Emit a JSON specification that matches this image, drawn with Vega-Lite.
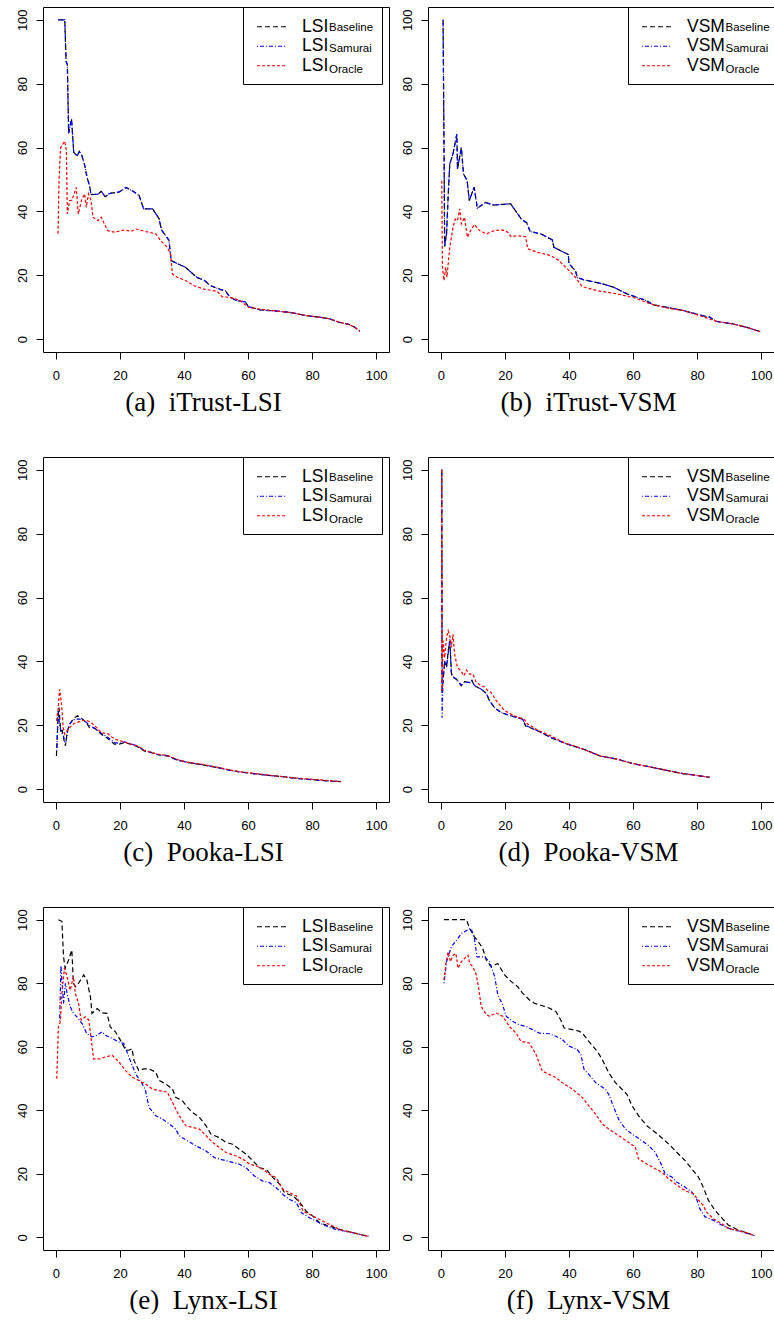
{
"$schema": "https://vega.github.io/schema/vega-lite/v6.json",
"background": "white",
"padding": {"left": 15, "top": 6, "right": 0, "bottom": 0},
"config": {
  "view": {"stroke": "black", "strokeWidth": 1},
  "axis": {"grid": false, "domain": false, "ticks": true, "tickColor": "black", "tickSize": 7, "tickWidth": 1, "labelFont": "Liberation Sans", "labelFontSize": 13, "labelColor": "black", "labelFlush": false, "labelOverlap": false, "titleFont": "Liberation Serif", "titleFontSize": 27, "titleFontWeight": "normal", "titleColor": "black"},
  "line": {"strokeWidth": 1.2}
},
"datasets": {
"a": [
{"x":0.7,"y":100,"s":"Baseline"},{"x":2.8,"y":100,"s":"Baseline"},{"x":3.2,"y":87,"s":"Baseline"},{"x":3.6,"y":86,"s":"Baseline"},{"x":4.0,"y":64.5,"s":"Baseline"},{"x":4.9,"y":69,"s":"Baseline"},{"x":5.6,"y":58.5,"s":"Baseline"},{"x":6.7,"y":57.3,"s":"Baseline"},{"x":7.3,"y":58.8,"s":"Baseline"},{"x":8.1,"y":57.6,"s":"Baseline"},{"x":9.0,"y":54.5,"s":"Baseline"},{"x":9.8,"y":50.5,"s":"Baseline"},{"x":10.5,"y":48.2,"s":"Baseline"},{"x":11.0,"y":45.3,"s":"Baseline"},{"x":13.1,"y":45.4,"s":"Baseline"},{"x":14.2,"y":46.3,"s":"Baseline"},{"x":15.4,"y":44.6,"s":"Baseline"},{"x":16.7,"y":45.6,"s":"Baseline"},{"x":19.8,"y":46.1,"s":"Baseline"},{"x":21.9,"y":47.5,"s":"Baseline"},{"x":24.0,"y":46.4,"s":"Baseline"},{"x":26.0,"y":45.0,"s":"Baseline"},{"x":27.4,"y":40.8,"s":"Baseline"},{"x":30.2,"y":40.8,"s":"Baseline"},{"x":32.2,"y":37.8,"s":"Baseline"},{"x":33.0,"y":34.2,"s":"Baseline"},{"x":35.3,"y":31.0,"s":"Baseline"},{"x":36.0,"y":24.6,"s":"Baseline"},{"x":37.9,"y":23.7,"s":"Baseline"},{"x":40.5,"y":22.5,"s":"Baseline"},{"x":44.1,"y":19.3,"s":"Baseline"},{"x":46.4,"y":18.4,"s":"Baseline"},{"x":48.2,"y":16.8,"s":"Baseline"},{"x":51.3,"y":15.6,"s":"Baseline"},{"x":52.9,"y":15.2,"s":"Baseline"},{"x":54.4,"y":13.1,"s":"Baseline"},{"x":56.5,"y":12.1,"s":"Baseline"},{"x":59.1,"y":11.7,"s":"Baseline"},{"x":60.1,"y":10.2,"s":"Baseline"},{"x":63.7,"y":9.2,"s":"Baseline"},{"x":68.9,"y":8.8,"s":"Baseline"},{"x":73.0,"y":8.4,"s":"Baseline"},{"x":78.2,"y":7.4,"s":"Baseline"},{"x":82.3,"y":6.9,"s":"Baseline"},{"x":85.4,"y":6.4,"s":"Baseline"},{"x":88.5,"y":5.3,"s":"Baseline"},{"x":91.6,"y":4.6,"s":"Baseline"},{"x":93.2,"y":3.8,"s":"Baseline"},{"x":94.9,"y":2.5,"s":"Baseline"},
{"x":0.7,"y":100,"s":"Samurai"},{"x":2.8,"y":100,"s":"Samurai"},{"x":3.2,"y":87,"s":"Samurai"},{"x":3.6,"y":86,"s":"Samurai"},{"x":4.0,"y":64.5,"s":"Samurai"},{"x":4.9,"y":69,"s":"Samurai"},{"x":5.6,"y":58.5,"s":"Samurai"},{"x":6.7,"y":57.3,"s":"Samurai"},{"x":7.3,"y":58.8,"s":"Samurai"},{"x":8.1,"y":57.6,"s":"Samurai"},{"x":9.0,"y":54.5,"s":"Samurai"},{"x":9.8,"y":50.5,"s":"Samurai"},{"x":10.5,"y":48.2,"s":"Samurai"},{"x":11.0,"y":45.3,"s":"Samurai"},{"x":13.1,"y":45.4,"s":"Samurai"},{"x":14.2,"y":46.3,"s":"Samurai"},{"x":15.4,"y":44.6,"s":"Samurai"},{"x":16.7,"y":45.6,"s":"Samurai"},{"x":19.8,"y":46.1,"s":"Samurai"},{"x":21.9,"y":47.5,"s":"Samurai"},{"x":24.0,"y":46.4,"s":"Samurai"},{"x":26.0,"y":45.0,"s":"Samurai"},{"x":27.4,"y":40.8,"s":"Samurai"},{"x":30.2,"y":40.8,"s":"Samurai"},{"x":32.2,"y":37.8,"s":"Samurai"},{"x":33.0,"y":34.2,"s":"Samurai"},{"x":35.3,"y":31.0,"s":"Samurai"},{"x":36.0,"y":24.6,"s":"Samurai"},{"x":37.9,"y":23.7,"s":"Samurai"},{"x":40.5,"y":22.5,"s":"Samurai"},{"x":44.1,"y":19.3,"s":"Samurai"},{"x":46.4,"y":18.4,"s":"Samurai"},{"x":48.2,"y":16.8,"s":"Samurai"},{"x":51.3,"y":15.6,"s":"Samurai"},{"x":52.9,"y":15.2,"s":"Samurai"},{"x":54.4,"y":13.1,"s":"Samurai"},{"x":56.5,"y":12.1,"s":"Samurai"},{"x":59.1,"y":11.7,"s":"Samurai"},{"x":60.1,"y":10.2,"s":"Samurai"},{"x":63.7,"y":9.2,"s":"Samurai"},{"x":68.9,"y":8.8,"s":"Samurai"},{"x":73.0,"y":8.4,"s":"Samurai"},{"x":78.2,"y":7.4,"s":"Samurai"},{"x":82.3,"y":6.9,"s":"Samurai"},{"x":85.4,"y":6.4,"s":"Samurai"},{"x":88.5,"y":5.3,"s":"Samurai"},{"x":91.6,"y":4.6,"s":"Samurai"},{"x":93.2,"y":3.8,"s":"Samurai"},{"x":94.9,"y":2.5,"s":"Samurai"},
{"x":0.7,"y":33,"s":"Oracle"},{"x":1.0,"y":49.6,"s":"Oracle"},{"x":1.5,"y":60,"s":"Oracle"},{"x":2.8,"y":62,"s":"Oracle"},{"x":3.3,"y":59,"s":"Oracle"},{"x":3.6,"y":39.2,"s":"Oracle"},{"x":4.3,"y":43.4,"s":"Oracle"},{"x":5.0,"y":43.5,"s":"Oracle"},{"x":6.4,"y":47.5,"s":"Oracle"},{"x":7.0,"y":39.2,"s":"Oracle"},{"x":8.0,"y":43.4,"s":"Oracle"},{"x":9.0,"y":45.5,"s":"Oracle"},{"x":9.5,"y":41.3,"s":"Oracle"},{"x":10.2,"y":45.5,"s":"Oracle"},{"x":11.0,"y":43.4,"s":"Oracle"},{"x":11.6,"y":38.2,"s":"Oracle"},{"x":13.1,"y":37.1,"s":"Oracle"},{"x":14.2,"y":38.2,"s":"Oracle"},{"x":15.2,"y":36.0,"s":"Oracle"},{"x":16.2,"y":34.0,"s":"Oracle"},{"x":18.3,"y":33.5,"s":"Oracle"},{"x":21.4,"y":34.2,"s":"Oracle"},{"x":23.5,"y":33.8,"s":"Oracle"},{"x":25.0,"y":34.5,"s":"Oracle"},{"x":27.6,"y":33.8,"s":"Oracle"},{"x":31.2,"y":33.0,"s":"Oracle"},{"x":32.7,"y":30.9,"s":"Oracle"},{"x":34.8,"y":28.8,"s":"Oracle"},{"x":35.8,"y":26.7,"s":"Oracle"},{"x":36.4,"y":20.4,"s":"Oracle"},{"x":37.9,"y":19.4,"s":"Oracle"},{"x":40.5,"y":18.4,"s":"Oracle"},{"x":43.0,"y":16.8,"s":"Oracle"},{"x":46.2,"y":15.7,"s":"Oracle"},{"x":50.3,"y":15.0,"s":"Oracle"},{"x":51.9,"y":13.3,"s":"Oracle"},{"x":54.4,"y":13.1,"s":"Oracle"},{"x":57.5,"y":12.1,"s":"Oracle"},{"x":60.1,"y":10.0,"s":"Oracle"},{"x":63.7,"y":9.4,"s":"Oracle"},{"x":68.9,"y":8.8,"s":"Oracle"},{"x":73.0,"y":8.4,"s":"Oracle"},{"x":78.2,"y":7.4,"s":"Oracle"},{"x":82.3,"y":6.9,"s":"Oracle"},{"x":85.4,"y":6.4,"s":"Oracle"},{"x":88.5,"y":5.3,"s":"Oracle"},{"x":91.6,"y":4.6,"s":"Oracle"},{"x":93.2,"y":3.8,"s":"Oracle"},{"x":94.9,"y":2.5,"s":"Oracle"}
],
"b": [
{"x":0.7,"y":100,"s":"Baseline"},{"x":1.0,"y":60,"s":"Baseline"},{"x":1.2,"y":29,"s":"Baseline"},{"x":1.8,"y":33,"s":"Baseline"},{"x":2.3,"y":45,"s":"Baseline"},{"x":2.8,"y":54.9,"s":"Baseline"},{"x":3.8,"y":58,"s":"Baseline"},{"x":5.0,"y":64.2,"s":"Baseline"},{"x":5.2,"y":53.3,"s":"Baseline"},{"x":6.4,"y":60,"s":"Baseline"},{"x":7.1,"y":51.7,"s":"Baseline"},{"x":8.2,"y":49.7,"s":"Baseline"},{"x":8.9,"y":43.4,"s":"Baseline"},{"x":10.4,"y":47.6,"s":"Baseline"},{"x":11.4,"y":41,"s":"Baseline"},{"x":13.9,"y":42.8,"s":"Baseline"},{"x":16.5,"y":42,"s":"Baseline"},{"x":21.8,"y":42.4,"s":"Baseline"},{"x":23.8,"y":39.5,"s":"Baseline"},{"x":25.3,"y":37.4,"s":"Baseline"},{"x":26.8,"y":36.5,"s":"Baseline"},{"x":27.9,"y":33.7,"s":"Baseline"},{"x":31.2,"y":33,"s":"Baseline"},{"x":34.8,"y":31.1,"s":"Baseline"},{"x":35.3,"y":28.8,"s":"Baseline"},{"x":38.4,"y":27.2,"s":"Baseline"},{"x":39.8,"y":26.5,"s":"Baseline"},{"x":40.0,"y":23.6,"s":"Baseline"},{"x":42.0,"y":21.5,"s":"Baseline"},{"x":42.6,"y":19.4,"s":"Baseline"},{"x":44.6,"y":18.6,"s":"Baseline"},{"x":49.8,"y":17.5,"s":"Baseline"},{"x":53.9,"y":16.3,"s":"Baseline"},{"x":58.1,"y":14.2,"s":"Baseline"},{"x":61.2,"y":13.1,"s":"Baseline"},{"x":63.7,"y":12.3,"s":"Baseline"},{"x":66.3,"y":10.8,"s":"Baseline"},{"x":70.5,"y":10,"s":"Baseline"},{"x":75.6,"y":9,"s":"Baseline"},{"x":80.8,"y":7.6,"s":"Baseline"},{"x":83.9,"y":6.9,"s":"Baseline"},{"x":86.0,"y":5.6,"s":"Baseline"},{"x":91.1,"y":4.8,"s":"Baseline"},{"x":95.2,"y":3.8,"s":"Baseline"},{"x":99.7,"y":2.4,"s":"Baseline"},
{"x":0.7,"y":100,"s":"Samurai"},{"x":1.0,"y":60,"s":"Samurai"},{"x":1.2,"y":29,"s":"Samurai"},{"x":1.8,"y":33,"s":"Samurai"},{"x":2.3,"y":45,"s":"Samurai"},{"x":2.8,"y":54.9,"s":"Samurai"},{"x":3.8,"y":58,"s":"Samurai"},{"x":5.0,"y":64.2,"s":"Samurai"},{"x":5.2,"y":53.3,"s":"Samurai"},{"x":6.4,"y":60,"s":"Samurai"},{"x":7.1,"y":51.7,"s":"Samurai"},{"x":8.2,"y":49.7,"s":"Samurai"},{"x":8.9,"y":43.4,"s":"Samurai"},{"x":10.4,"y":47.6,"s":"Samurai"},{"x":11.4,"y":41,"s":"Samurai"},{"x":13.9,"y":42.8,"s":"Samurai"},{"x":16.5,"y":42,"s":"Samurai"},{"x":21.8,"y":42.4,"s":"Samurai"},{"x":23.8,"y":39.5,"s":"Samurai"},{"x":25.3,"y":37.4,"s":"Samurai"},{"x":26.8,"y":36.5,"s":"Samurai"},{"x":27.9,"y":33.7,"s":"Samurai"},{"x":31.2,"y":33,"s":"Samurai"},{"x":34.8,"y":31.1,"s":"Samurai"},{"x":35.3,"y":28.8,"s":"Samurai"},{"x":38.4,"y":27.2,"s":"Samurai"},{"x":39.8,"y":26.5,"s":"Samurai"},{"x":40.0,"y":23.6,"s":"Samurai"},{"x":42.0,"y":21.5,"s":"Samurai"},{"x":42.6,"y":19.4,"s":"Samurai"},{"x":44.6,"y":18.6,"s":"Samurai"},{"x":49.8,"y":17.5,"s":"Samurai"},{"x":53.9,"y":16.3,"s":"Samurai"},{"x":58.1,"y":14.2,"s":"Samurai"},{"x":61.2,"y":13.1,"s":"Samurai"},{"x":63.7,"y":12.3,"s":"Samurai"},{"x":66.3,"y":10.8,"s":"Samurai"},{"x":70.5,"y":10,"s":"Samurai"},{"x":75.6,"y":9,"s":"Samurai"},{"x":80.8,"y":7.6,"s":"Samurai"},{"x":83.9,"y":6.9,"s":"Samurai"},{"x":86.0,"y":5.6,"s":"Samurai"},{"x":91.1,"y":4.8,"s":"Samurai"},{"x":95.2,"y":3.8,"s":"Samurai"},{"x":99.7,"y":2.4,"s":"Samurai"},
{"x":0.3,"y":49.6,"s":"Oracle"},{"x":0.5,"y":22.5,"s":"Oracle"},{"x":1.0,"y":18.4,"s":"Oracle"},{"x":1.5,"y":22.5,"s":"Oracle"},{"x":1.9,"y":19.4,"s":"Oracle"},{"x":2.8,"y":28.8,"s":"Oracle"},{"x":3.8,"y":35,"s":"Oracle"},{"x":4.5,"y":37.6,"s":"Oracle"},{"x":5.2,"y":37.1,"s":"Oracle"},{"x":5.9,"y":40.8,"s":"Oracle"},{"x":6.4,"y":36.1,"s":"Oracle"},{"x":7.4,"y":38.2,"s":"Oracle"},{"x":8.3,"y":31.9,"s":"Oracle"},{"x":9.3,"y":34,"s":"Oracle"},{"x":10.5,"y":35.9,"s":"Oracle"},{"x":12.1,"y":34,"s":"Oracle"},{"x":14.2,"y":33,"s":"Oracle"},{"x":16.7,"y":34,"s":"Oracle"},{"x":19.3,"y":34.2,"s":"Oracle"},{"x":20.9,"y":33.5,"s":"Oracle"},{"x":21.9,"y":32.1,"s":"Oracle"},{"x":24.0,"y":32.4,"s":"Oracle"},{"x":26.5,"y":32.1,"s":"Oracle"},{"x":27.1,"y":28.3,"s":"Oracle"},{"x":30.2,"y":27.2,"s":"Oracle"},{"x":34.3,"y":26.2,"s":"Oracle"},{"x":36.9,"y":24.6,"s":"Oracle"},{"x":39.5,"y":22,"s":"Oracle"},{"x":42.0,"y":19.4,"s":"Oracle"},{"x":44.1,"y":16.5,"s":"Oracle"},{"x":48.8,"y":15.2,"s":"Oracle"},{"x":55.0,"y":14.2,"s":"Oracle"},{"x":60.6,"y":12.9,"s":"Oracle"},{"x":65.3,"y":11.1,"s":"Oracle"},{"x":70.5,"y":9.8,"s":"Oracle"},{"x":75.6,"y":9,"s":"Oracle"},{"x":80.8,"y":7.4,"s":"Oracle"},{"x":86.0,"y":5.6,"s":"Oracle"},{"x":91.1,"y":4.8,"s":"Oracle"},{"x":95.2,"y":3.8,"s":"Oracle"},{"x":99.7,"y":2.4,"s":"Oracle"}
],
"c": [
{"x":0.2,"y":10.4,"s":"Baseline"},{"x":0.7,"y":22.4,"s":"Baseline"},{"x":1.0,"y":25.6,"s":"Baseline"},{"x":1.5,"y":18.3,"s":"Baseline"},{"x":2.0,"y":18.5,"s":"Baseline"},{"x":2.6,"y":15.1,"s":"Baseline"},{"x":3.0,"y":13.6,"s":"Baseline"},{"x":3.6,"y":18.3,"s":"Baseline"},{"x":4.3,"y":20.4,"s":"Baseline"},{"x":5.4,"y":21.9,"s":"Baseline"},{"x":6.7,"y":23,"s":"Baseline"},{"x":8.0,"y":22.2,"s":"Baseline"},{"x":9.5,"y":20.9,"s":"Baseline"},{"x":10.5,"y":19.3,"s":"Baseline"},{"x":12.1,"y":19.1,"s":"Baseline"},{"x":14.2,"y":17.2,"s":"Baseline"},{"x":16.2,"y":15.9,"s":"Baseline"},{"x":18.3,"y":14.1,"s":"Baseline"},{"x":19.8,"y":14.1,"s":"Baseline"},{"x":21.4,"y":14.6,"s":"Baseline"},{"x":24.0,"y":13.9,"s":"Baseline"},{"x":25.5,"y":13.3,"s":"Baseline"},{"x":27.6,"y":12,"s":"Baseline"},{"x":29.6,"y":11.5,"s":"Baseline"},{"x":31.7,"y":10.8,"s":"Baseline"},{"x":34.8,"y":10.4,"s":"Baseline"},{"x":37.9,"y":9.1,"s":"Baseline"},{"x":41.0,"y":8.4,"s":"Baseline"},{"x":45.1,"y":7.8,"s":"Baseline"},{"x":50.3,"y":6.8,"s":"Baseline"},{"x":55.5,"y":5.7,"s":"Baseline"},{"x":60.6,"y":5,"s":"Baseline"},{"x":65.8,"y":4.4,"s":"Baseline"},{"x":71.0,"y":3.9,"s":"Baseline"},{"x":76.1,"y":3.3,"s":"Baseline"},{"x":81.3,"y":2.9,"s":"Baseline"},{"x":86.5,"y":2.5,"s":"Baseline"},{"x":89.0,"y":2.4,"s":"Baseline"},
{"x":0.3,"y":12,"s":"Samurai"},{"x":0.7,"y":24.5,"s":"Samurai"},{"x":1.2,"y":20,"s":"Samurai"},{"x":1.7,"y":17.5,"s":"Samurai"},{"x":2.3,"y":17.2,"s":"Samurai"},{"x":2.8,"y":14.5,"s":"Samurai"},{"x":3.2,"y":15,"s":"Samurai"},{"x":3.8,"y":18.8,"s":"Samurai"},{"x":4.6,"y":20.8,"s":"Samurai"},{"x":5.6,"y":21.7,"s":"Samurai"},{"x":6.9,"y":22,"s":"Samurai"},{"x":8.2,"y":21.8,"s":"Samurai"},{"x":9.5,"y":21,"s":"Samurai"},{"x":10.7,"y":19.8,"s":"Samurai"},{"x":12.3,"y":19,"s":"Samurai"},{"x":14.2,"y":17.5,"s":"Samurai"},{"x":16.2,"y":16.3,"s":"Samurai"},{"x":18.3,"y":14.6,"s":"Samurai"},{"x":19.8,"y":14.4,"s":"Samurai"},{"x":21.4,"y":14.8,"s":"Samurai"},{"x":24.0,"y":14,"s":"Samurai"},{"x":25.5,"y":13.5,"s":"Samurai"},{"x":27.6,"y":12.2,"s":"Samurai"},{"x":29.6,"y":11.6,"s":"Samurai"},{"x":31.7,"y":10.9,"s":"Samurai"},{"x":34.8,"y":10.5,"s":"Samurai"},{"x":37.9,"y":9.2,"s":"Samurai"},{"x":41.0,"y":8.4,"s":"Samurai"},{"x":45.1,"y":7.8,"s":"Samurai"},{"x":50.3,"y":6.8,"s":"Samurai"},{"x":55.5,"y":5.7,"s":"Samurai"},{"x":60.6,"y":5,"s":"Samurai"},{"x":65.8,"y":4.4,"s":"Samurai"},{"x":71.0,"y":3.9,"s":"Samurai"},{"x":76.1,"y":3.3,"s":"Samurai"},{"x":81.3,"y":2.9,"s":"Samurai"},{"x":86.5,"y":2.5,"s":"Samurai"},{"x":89.0,"y":2.4,"s":"Samurai"},
{"x":0.2,"y":21.4,"s":"Oracle"},{"x":0.7,"y":25,"s":"Oracle"},{"x":1.2,"y":31.3,"s":"Oracle"},{"x":1.8,"y":26.6,"s":"Oracle"},{"x":2.3,"y":19.3,"s":"Oracle"},{"x":2.8,"y":17.2,"s":"Oracle"},{"x":3.3,"y":18,"s":"Oracle"},{"x":4.3,"y":19.3,"s":"Oracle"},{"x":5.7,"y":20.6,"s":"Oracle"},{"x":6.7,"y":20.9,"s":"Oracle"},{"x":8.0,"y":21.4,"s":"Oracle"},{"x":9.5,"y":21.6,"s":"Oracle"},{"x":11.0,"y":20.9,"s":"Oracle"},{"x":12.5,"y":19.5,"s":"Oracle"},{"x":14.2,"y":17.7,"s":"Oracle"},{"x":16.2,"y":17.4,"s":"Oracle"},{"x":18.3,"y":15.7,"s":"Oracle"},{"x":20.4,"y":15.1,"s":"Oracle"},{"x":23.5,"y":14.1,"s":"Oracle"},{"x":25.5,"y":13.6,"s":"Oracle"},{"x":27.6,"y":12.2,"s":"Oracle"},{"x":29.6,"y":11.6,"s":"Oracle"},{"x":31.7,"y":11,"s":"Oracle"},{"x":34.8,"y":10.6,"s":"Oracle"},{"x":37.9,"y":9.3,"s":"Oracle"},{"x":41.0,"y":8.5,"s":"Oracle"},{"x":45.1,"y":7.9,"s":"Oracle"},{"x":50.3,"y":6.9,"s":"Oracle"},{"x":55.5,"y":5.8,"s":"Oracle"},{"x":60.6,"y":5.1,"s":"Oracle"},{"x":65.8,"y":4.5,"s":"Oracle"},{"x":71.0,"y":3.9,"s":"Oracle"},{"x":76.1,"y":3.4,"s":"Oracle"},{"x":81.3,"y":3,"s":"Oracle"},{"x":86.5,"y":2.6,"s":"Oracle"},{"x":89.0,"y":2.4,"s":"Oracle"}
],
"d": [
{"x":0.3,"y":100,"s":"Baseline"},{"x":0.4,"y":30,"s":"Baseline"},{"x":0.7,"y":33.9,"s":"Baseline"},{"x":1.2,"y":40.2,"s":"Baseline"},{"x":1.8,"y":38.1,"s":"Baseline"},{"x":2.3,"y":43.3,"s":"Baseline"},{"x":2.8,"y":46.5,"s":"Baseline"},{"x":3.3,"y":36.5,"s":"Baseline"},{"x":3.8,"y":35,"s":"Baseline"},{"x":4.9,"y":34.4,"s":"Baseline"},{"x":6.4,"y":32.4,"s":"Baseline"},{"x":7.4,"y":33.7,"s":"Baseline"},{"x":9.0,"y":33.4,"s":"Baseline"},{"x":9.7,"y":34.1,"s":"Baseline"},{"x":10.5,"y":32.4,"s":"Baseline"},{"x":12.6,"y":31.3,"s":"Baseline"},{"x":14.2,"y":30,"s":"Baseline"},{"x":15.2,"y":27.7,"s":"Baseline"},{"x":16.7,"y":25.6,"s":"Baseline"},{"x":18.8,"y":24,"s":"Baseline"},{"x":21.9,"y":23,"s":"Baseline"},{"x":25.5,"y":21.9,"s":"Baseline"},{"x":26.5,"y":19.8,"s":"Baseline"},{"x":30.2,"y":18.3,"s":"Baseline"},{"x":34.3,"y":16.2,"s":"Baseline"},{"x":39.5,"y":14.1,"s":"Baseline"},{"x":44.6,"y":12.5,"s":"Baseline"},{"x":49.8,"y":10.4,"s":"Baseline"},{"x":55.0,"y":9.4,"s":"Baseline"},{"x":60.1,"y":8,"s":"Baseline"},{"x":65.3,"y":7,"s":"Baseline"},{"x":70.5,"y":5.9,"s":"Baseline"},{"x":75.6,"y":4.9,"s":"Baseline"},{"x":80.8,"y":4.2,"s":"Baseline"},{"x":83.9,"y":3.7,"s":"Baseline"},
{"x":0.3,"y":100,"s":"Samurai"},{"x":0.4,"y":22.4,"s":"Samurai"},{"x":0.7,"y":34.5,"s":"Samurai"},{"x":1.2,"y":39.5,"s":"Samurai"},{"x":1.8,"y":38.5,"s":"Samurai"},{"x":2.3,"y":42.5,"s":"Samurai"},{"x":2.8,"y":47,"s":"Samurai"},{"x":3.3,"y":36,"s":"Samurai"},{"x":3.8,"y":35.2,"s":"Samurai"},{"x":4.9,"y":34.4,"s":"Samurai"},{"x":6.4,"y":32.6,"s":"Samurai"},{"x":7.4,"y":33.5,"s":"Samurai"},{"x":9.0,"y":33.4,"s":"Samurai"},{"x":9.7,"y":34,"s":"Samurai"},{"x":10.5,"y":32.5,"s":"Samurai"},{"x":12.6,"y":31.3,"s":"Samurai"},{"x":14.2,"y":30,"s":"Samurai"},{"x":15.2,"y":27.7,"s":"Samurai"},{"x":16.7,"y":25.6,"s":"Samurai"},{"x":18.8,"y":24,"s":"Samurai"},{"x":21.9,"y":23,"s":"Samurai"},{"x":25.5,"y":21.9,"s":"Samurai"},{"x":26.5,"y":20,"s":"Samurai"},{"x":30.2,"y":18.3,"s":"Samurai"},{"x":34.3,"y":16.2,"s":"Samurai"},{"x":39.5,"y":14.1,"s":"Samurai"},{"x":44.6,"y":12.5,"s":"Samurai"},{"x":49.8,"y":10.4,"s":"Samurai"},{"x":55.0,"y":9.4,"s":"Samurai"},{"x":60.1,"y":8,"s":"Samurai"},{"x":65.3,"y":7,"s":"Samurai"},{"x":70.5,"y":5.9,"s":"Samurai"},{"x":75.6,"y":4.9,"s":"Samurai"},{"x":80.8,"y":4.2,"s":"Samurai"},{"x":83.9,"y":3.7,"s":"Samurai"},
{"x":0.3,"y":100,"s":"Oracle"},{"x":0.4,"y":30.8,"s":"Oracle"},{"x":0.7,"y":46.5,"s":"Oracle"},{"x":1.2,"y":41.2,"s":"Oracle"},{"x":1.8,"y":47.5,"s":"Oracle"},{"x":2.3,"y":49.6,"s":"Oracle"},{"x":2.8,"y":48,"s":"Oracle"},{"x":3.3,"y":44.4,"s":"Oracle"},{"x":3.8,"y":48.5,"s":"Oracle"},{"x":4.3,"y":42.3,"s":"Oracle"},{"x":5.2,"y":38.1,"s":"Oracle"},{"x":6.2,"y":37.1,"s":"Oracle"},{"x":7.2,"y":35.5,"s":"Oracle"},{"x":8.0,"y":37.3,"s":"Oracle"},{"x":9.0,"y":36,"s":"Oracle"},{"x":10.0,"y":36,"s":"Oracle"},{"x":11.1,"y":33.4,"s":"Oracle"},{"x":12.6,"y":32.4,"s":"Oracle"},{"x":13.6,"y":32,"s":"Oracle"},{"x":14.7,"y":30.8,"s":"Oracle"},{"x":15.7,"y":30.3,"s":"Oracle"},{"x":17.3,"y":27.7,"s":"Oracle"},{"x":19.8,"y":24.7,"s":"Oracle"},{"x":22.9,"y":23,"s":"Oracle"},{"x":26.0,"y":21.9,"s":"Oracle"},{"x":27.0,"y":20.5,"s":"Oracle"},{"x":30.2,"y":18.5,"s":"Oracle"},{"x":34.3,"y":16.7,"s":"Oracle"},{"x":38.4,"y":14.6,"s":"Oracle"},{"x":44.6,"y":12.5,"s":"Oracle"},{"x":49.8,"y":10.4,"s":"Oracle"},{"x":55.0,"y":9.4,"s":"Oracle"},{"x":60.1,"y":8,"s":"Oracle"},{"x":65.3,"y":7,"s":"Oracle"},{"x":70.5,"y":5.9,"s":"Oracle"},{"x":75.6,"y":4.9,"s":"Oracle"},{"x":80.8,"y":4.2,"s":"Oracle"},{"x":83.9,"y":3.7,"s":"Oracle"}
],
"e": [
{"x":0.8,"y":100,"s":"Baseline"},{"x":1.9,"y":99.5,"s":"Baseline"},{"x":2.4,"y":88.4,"s":"Baseline"},{"x":2.9,"y":84.7,"s":"Baseline"},{"x":4.0,"y":87.3,"s":"Baseline"},{"x":5.0,"y":90.5,"s":"Baseline"},{"x":5.5,"y":80,"s":"Baseline"},{"x":6.1,"y":78.9,"s":"Baseline"},{"x":7.1,"y":80,"s":"Baseline"},{"x":8.7,"y":82.6,"s":"Baseline"},{"x":9.7,"y":81,"s":"Baseline"},{"x":10.8,"y":75.7,"s":"Baseline"},{"x":11.3,"y":70.5,"s":"Baseline"},{"x":12.9,"y":72,"s":"Baseline"},{"x":14.4,"y":70.7,"s":"Baseline"},{"x":16.0,"y":70.5,"s":"Baseline"},{"x":17.0,"y":66.2,"s":"Baseline"},{"x":18.6,"y":64.7,"s":"Baseline"},{"x":20.2,"y":62,"s":"Baseline"},{"x":21.8,"y":58.9,"s":"Baseline"},{"x":22.8,"y":58.9,"s":"Baseline"},{"x":23.8,"y":59.4,"s":"Baseline"},{"x":24.4,"y":55.7,"s":"Baseline"},{"x":25.9,"y":52.5,"s":"Baseline"},{"x":27.5,"y":53,"s":"Baseline"},{"x":29.1,"y":53,"s":"Baseline"},{"x":31.2,"y":52,"s":"Baseline"},{"x":32.2,"y":49.4,"s":"Baseline"},{"x":34.3,"y":48.3,"s":"Baseline"},{"x":36.4,"y":46.7,"s":"Baseline"},{"x":37.4,"y":44.1,"s":"Baseline"},{"x":39.5,"y":43,"s":"Baseline"},{"x":41.1,"y":40.9,"s":"Baseline"},{"x":42.7,"y":39.3,"s":"Baseline"},{"x":44.8,"y":37.8,"s":"Baseline"},{"x":46.9,"y":35.1,"s":"Baseline"},{"x":48.4,"y":32.5,"s":"Baseline"},{"x":51.0,"y":31.4,"s":"Baseline"},{"x":53.1,"y":29.9,"s":"Baseline"},{"x":55.2,"y":29.3,"s":"Baseline"},{"x":57.3,"y":27.7,"s":"Baseline"},{"x":59.4,"y":26.2,"s":"Baseline"},{"x":61.5,"y":24.1,"s":"Baseline"},{"x":63.6,"y":21.9,"s":"Baseline"},{"x":65.7,"y":21.4,"s":"Baseline"},{"x":67.8,"y":18.8,"s":"Baseline"},{"x":69.9,"y":16.7,"s":"Baseline"},{"x":71.4,"y":14,"s":"Baseline"},{"x":74.1,"y":13,"s":"Baseline"},{"x":76.2,"y":10.9,"s":"Baseline"},{"x":78.2,"y":8.2,"s":"Baseline"},{"x":80.3,"y":6.6,"s":"Baseline"},{"x":82.4,"y":4.5,"s":"Baseline"},{"x":85.6,"y":3.5,"s":"Baseline"},{"x":88.7,"y":2.4,"s":"Baseline"},{"x":92.9,"y":1.4,"s":"Baseline"},{"x":97.6,"y":0.3,"s":"Baseline"},
{"x":1.2,"y":68,"s":"Samurai"},{"x":1.6,"y":85.5,"s":"Samurai"},{"x":2.4,"y":73.6,"s":"Samurai"},{"x":3.0,"y":80,"s":"Samurai"},{"x":3.5,"y":76.8,"s":"Samurai"},{"x":4.5,"y":72.6,"s":"Samurai"},{"x":5.5,"y":70.5,"s":"Samurai"},{"x":6.6,"y":69.4,"s":"Samurai"},{"x":8.2,"y":67.3,"s":"Samurai"},{"x":9.7,"y":64.1,"s":"Samurai"},{"x":11.3,"y":63.1,"s":"Samurai"},{"x":12.9,"y":63.6,"s":"Samurai"},{"x":14.4,"y":64.7,"s":"Samurai"},{"x":15.5,"y":63.6,"s":"Samurai"},{"x":17.6,"y":62.6,"s":"Samurai"},{"x":19.7,"y":61.5,"s":"Samurai"},{"x":21.2,"y":61,"s":"Samurai"},{"x":22.8,"y":56.8,"s":"Samurai"},{"x":24.9,"y":51.5,"s":"Samurai"},{"x":27.0,"y":48.3,"s":"Samurai"},{"x":28.0,"y":46.2,"s":"Samurai"},{"x":29.1,"y":40.9,"s":"Samurai"},{"x":31.2,"y":38.3,"s":"Samurai"},{"x":33.3,"y":37.2,"s":"Samurai"},{"x":35.4,"y":35.7,"s":"Samurai"},{"x":37.4,"y":34.1,"s":"Samurai"},{"x":38.5,"y":32,"s":"Samurai"},{"x":41.1,"y":30.4,"s":"Samurai"},{"x":43.7,"y":28.8,"s":"Samurai"},{"x":46.9,"y":27.2,"s":"Samurai"},{"x":49.5,"y":25.1,"s":"Samurai"},{"x":53.1,"y":24.1,"s":"Samurai"},{"x":57.3,"y":23,"s":"Samurai"},{"x":59.4,"y":21.9,"s":"Samurai"},{"x":62.0,"y":19.3,"s":"Samurai"},{"x":64.6,"y":17.7,"s":"Samurai"},{"x":66.7,"y":17.2,"s":"Samurai"},{"x":68.8,"y":15.6,"s":"Samurai"},{"x":70.9,"y":13.5,"s":"Samurai"},{"x":73.0,"y":11.9,"s":"Samurai"},{"x":75.1,"y":10.9,"s":"Samurai"},{"x":76.7,"y":7.7,"s":"Samurai"},{"x":79.3,"y":6.1,"s":"Samurai"},{"x":82.4,"y":4.5,"s":"Samurai"},{"x":85.6,"y":3,"s":"Samurai"},{"x":88.7,"y":2.2,"s":"Samurai"},{"x":92.9,"y":1.4,"s":"Samurai"},{"x":97.6,"y":0.3,"s":"Samurai"},
{"x":0.3,"y":49.9,"s":"Oracle"},{"x":0.8,"y":66.2,"s":"Oracle"},{"x":1.4,"y":67.8,"s":"Oracle"},{"x":1.9,"y":76.8,"s":"Oracle"},{"x":2.7,"y":84.7,"s":"Oracle"},{"x":3.5,"y":82.1,"s":"Oracle"},{"x":4.5,"y":77.8,"s":"Oracle"},{"x":5.5,"y":82.1,"s":"Oracle"},{"x":6.1,"y":76.8,"s":"Oracle"},{"x":7.1,"y":73.6,"s":"Oracle"},{"x":7.9,"y":68.4,"s":"Oracle"},{"x":9.2,"y":69.4,"s":"Oracle"},{"x":10.3,"y":68.4,"s":"Oracle"},{"x":11.8,"y":56.2,"s":"Oracle"},{"x":13.9,"y":56.2,"s":"Oracle"},{"x":15.5,"y":56.8,"s":"Oracle"},{"x":17.6,"y":57.3,"s":"Oracle"},{"x":19.7,"y":55.2,"s":"Oracle"},{"x":21.8,"y":52.5,"s":"Oracle"},{"x":23.8,"y":50.4,"s":"Oracle"},{"x":25.9,"y":49.4,"s":"Oracle"},{"x":28.0,"y":48.3,"s":"Oracle"},{"x":30.1,"y":46.7,"s":"Oracle"},{"x":32.2,"y":46.2,"s":"Oracle"},{"x":34.8,"y":45.7,"s":"Oracle"},{"x":36.4,"y":42.5,"s":"Oracle"},{"x":38.5,"y":38.3,"s":"Oracle"},{"x":40.6,"y":35.1,"s":"Oracle"},{"x":42.7,"y":34.6,"s":"Oracle"},{"x":44.8,"y":34.1,"s":"Oracle"},{"x":46.9,"y":32,"s":"Oracle"},{"x":48.9,"y":29.9,"s":"Oracle"},{"x":51.0,"y":28.3,"s":"Oracle"},{"x":53.1,"y":26.7,"s":"Oracle"},{"x":56.3,"y":25.6,"s":"Oracle"},{"x":58.4,"y":24.6,"s":"Oracle"},{"x":60.5,"y":23,"s":"Oracle"},{"x":62.6,"y":22.5,"s":"Oracle"},{"x":64.6,"y":21.4,"s":"Oracle"},{"x":66.7,"y":19.8,"s":"Oracle"},{"x":68.8,"y":18.8,"s":"Oracle"},{"x":70.9,"y":15.1,"s":"Oracle"},{"x":73.0,"y":14,"s":"Oracle"},{"x":75.1,"y":13,"s":"Oracle"},{"x":77.2,"y":8.2,"s":"Oracle"},{"x":79.3,"y":7.2,"s":"Oracle"},{"x":81.4,"y":6.1,"s":"Oracle"},{"x":84.5,"y":4.5,"s":"Oracle"},{"x":88.7,"y":2.4,"s":"Oracle"},{"x":92.9,"y":1.4,"s":"Oracle"},{"x":97.6,"y":0.3,"s":"Oracle"}
],
"f": [
{"x":1.0,"y":100,"s":"Baseline"},{"x":8.0,"y":100,"s":"Baseline"},{"x":9.0,"y":97.2,"s":"Baseline"},{"x":10.5,"y":94.6,"s":"Baseline"},{"x":12.1,"y":92.5,"s":"Baseline"},{"x":13.1,"y":90.9,"s":"Baseline"},{"x":14.2,"y":87.3,"s":"Baseline"},{"x":15.7,"y":85.2,"s":"Baseline"},{"x":17.8,"y":86.2,"s":"Baseline"},{"x":19.9,"y":82.6,"s":"Baseline"},{"x":22.0,"y":80.5,"s":"Baseline"},{"x":24.0,"y":78.9,"s":"Baseline"},{"x":25.5,"y":76.9,"s":"Baseline"},{"x":27.6,"y":74.8,"s":"Baseline"},{"x":29.2,"y":73.7,"s":"Baseline"},{"x":31.7,"y":72.9,"s":"Baseline"},{"x":33.8,"y":72.2,"s":"Baseline"},{"x":35.9,"y":71.1,"s":"Baseline"},{"x":37.4,"y":68.5,"s":"Baseline"},{"x":38.5,"y":65.9,"s":"Baseline"},{"x":41.1,"y":65.4,"s":"Baseline"},{"x":43.1,"y":64.9,"s":"Baseline"},{"x":44.2,"y":64.3,"s":"Baseline"},{"x":46.2,"y":61.7,"s":"Baseline"},{"x":48.8,"y":58.6,"s":"Baseline"},{"x":50.4,"y":56,"s":"Baseline"},{"x":52.4,"y":51.8,"s":"Baseline"},{"x":54.5,"y":48.7,"s":"Baseline"},{"x":56.6,"y":46.6,"s":"Baseline"},{"x":58.1,"y":45,"s":"Baseline"},{"x":59.7,"y":41.4,"s":"Baseline"},{"x":61.7,"y":38.3,"s":"Baseline"},{"x":64.3,"y":35.1,"s":"Baseline"},{"x":66.9,"y":33.1,"s":"Baseline"},{"x":70.0,"y":30.4,"s":"Baseline"},{"x":72.1,"y":28.4,"s":"Baseline"},{"x":74.1,"y":26.3,"s":"Baseline"},{"x":76.2,"y":24.2,"s":"Baseline"},{"x":78.3,"y":21.6,"s":"Baseline"},{"x":80.4,"y":19,"s":"Baseline"},{"x":81.9,"y":15.8,"s":"Baseline"},{"x":83.5,"y":11.7,"s":"Baseline"},{"x":85.5,"y":8.6,"s":"Baseline"},{"x":87.6,"y":6.2,"s":"Baseline"},{"x":89.7,"y":3.9,"s":"Baseline"},{"x":92.8,"y":2.3,"s":"Baseline"},{"x":95.9,"y":1.3,"s":"Baseline"},{"x":97.9,"y":0.5,"s":"Baseline"},
{"x":1.0,"y":80,"s":"Samurai"},{"x":1.8,"y":86.8,"s":"Samurai"},{"x":3.3,"y":91.5,"s":"Samurai"},{"x":4.9,"y":93.5,"s":"Samurai"},{"x":6.4,"y":95.6,"s":"Samurai"},{"x":8.5,"y":96.9,"s":"Samurai"},{"x":9.5,"y":97.2,"s":"Samurai"},{"x":10.5,"y":94,"s":"Samurai"},{"x":11.3,"y":88.3,"s":"Samurai"},{"x":13.7,"y":88.3,"s":"Samurai"},{"x":15.2,"y":86.8,"s":"Samurai"},{"x":16.8,"y":82.1,"s":"Samurai"},{"x":17.8,"y":76.3,"s":"Samurai"},{"x":19.3,"y":73.2,"s":"Samurai"},{"x":20.4,"y":69.6,"s":"Samurai"},{"x":22.4,"y":68,"s":"Samurai"},{"x":24.5,"y":66.9,"s":"Samurai"},{"x":26.6,"y":66.4,"s":"Samurai"},{"x":28.6,"y":65.4,"s":"Samurai"},{"x":30.7,"y":64.3,"s":"Samurai"},{"x":33.8,"y":64.1,"s":"Samurai"},{"x":35.9,"y":63.3,"s":"Samurai"},{"x":37.9,"y":62.3,"s":"Samurai"},{"x":40.0,"y":60.2,"s":"Samurai"},{"x":42.6,"y":59.1,"s":"Samurai"},{"x":43.7,"y":57.6,"s":"Samurai"},{"x":44.7,"y":52.9,"s":"Samurai"},{"x":46.2,"y":51.3,"s":"Samurai"},{"x":48.3,"y":48.7,"s":"Samurai"},{"x":51.4,"y":46.6,"s":"Samurai"},{"x":52.4,"y":45,"s":"Samurai"},{"x":54.0,"y":40.9,"s":"Samurai"},{"x":55.5,"y":37.2,"s":"Samurai"},{"x":57.6,"y":34.1,"s":"Samurai"},{"x":59.7,"y":32.5,"s":"Samurai"},{"x":62.8,"y":30.4,"s":"Samurai"},{"x":64.8,"y":28.9,"s":"Samurai"},{"x":66.9,"y":26.8,"s":"Samurai"},{"x":69.0,"y":22.6,"s":"Samurai"},{"x":70.0,"y":20,"s":"Samurai"},{"x":72.1,"y":19,"s":"Samurai"},{"x":73.6,"y":17.4,"s":"Samurai"},{"x":76.2,"y":15.8,"s":"Samurai"},{"x":78.3,"y":14.3,"s":"Samurai"},{"x":79.8,"y":12.2,"s":"Samurai"},{"x":80.8,"y":9.1,"s":"Samurai"},{"x":82.4,"y":6.5,"s":"Samurai"},{"x":85.0,"y":5.4,"s":"Samurai"},{"x":87.6,"y":3.9,"s":"Samurai"},{"x":90.7,"y":2.5,"s":"Samurai"},{"x":93.8,"y":1.8,"s":"Samurai"},{"x":97.9,"y":0.5,"s":"Samurai"},
{"x":1.0,"y":81,"s":"Oracle"},{"x":1.6,"y":86.2,"s":"Oracle"},{"x":2.3,"y":89.9,"s":"Oracle"},{"x":3.0,"y":86.8,"s":"Oracle"},{"x":3.8,"y":88.8,"s":"Oracle"},{"x":4.7,"y":89.4,"s":"Oracle"},{"x":5.4,"y":84.7,"s":"Oracle"},{"x":6.4,"y":86.8,"s":"Oracle"},{"x":7.4,"y":87.8,"s":"Oracle"},{"x":8.5,"y":88.8,"s":"Oracle"},{"x":9.0,"y":86.2,"s":"Oracle"},{"x":10.0,"y":85.2,"s":"Oracle"},{"x":11.1,"y":82.6,"s":"Oracle"},{"x":11.9,"y":77.9,"s":"Oracle"},{"x":12.6,"y":72.7,"s":"Oracle"},{"x":14.2,"y":70.1,"s":"Oracle"},{"x":15.2,"y":69.6,"s":"Oracle"},{"x":17.3,"y":70.6,"s":"Oracle"},{"x":19.3,"y":69.6,"s":"Oracle"},{"x":21.4,"y":66.4,"s":"Oracle"},{"x":23.5,"y":64.3,"s":"Oracle"},{"x":25.0,"y":61.7,"s":"Oracle"},{"x":27.6,"y":61.2,"s":"Oracle"},{"x":29.7,"y":57.6,"s":"Oracle"},{"x":31.7,"y":52.3,"s":"Oracle"},{"x":33.8,"y":51.3,"s":"Oracle"},{"x":35.9,"y":50.3,"s":"Oracle"},{"x":37.9,"y":48.7,"s":"Oracle"},{"x":41.1,"y":46.6,"s":"Oracle"},{"x":44.2,"y":44,"s":"Oracle"},{"x":46.2,"y":41.4,"s":"Oracle"},{"x":48.3,"y":38.8,"s":"Oracle"},{"x":50.4,"y":35.7,"s":"Oracle"},{"x":52.4,"y":34.1,"s":"Oracle"},{"x":55.5,"y":32,"s":"Oracle"},{"x":58.6,"y":29.9,"s":"Oracle"},{"x":60.7,"y":28.4,"s":"Oracle"},{"x":61.7,"y":24.7,"s":"Oracle"},{"x":64.3,"y":23.1,"s":"Oracle"},{"x":66.9,"y":21.6,"s":"Oracle"},{"x":69.0,"y":20.5,"s":"Oracle"},{"x":71.0,"y":18.5,"s":"Oracle"},{"x":73.1,"y":16.9,"s":"Oracle"},{"x":75.2,"y":15.3,"s":"Oracle"},{"x":77.2,"y":14.3,"s":"Oracle"},{"x":78.8,"y":13.8,"s":"Oracle"},{"x":80.4,"y":11.7,"s":"Oracle"},{"x":81.9,"y":10.1,"s":"Oracle"},{"x":82.9,"y":8,"s":"Oracle"},{"x":85.0,"y":5.9,"s":"Oracle"},{"x":87.6,"y":4.4,"s":"Oracle"},{"x":89.7,"y":2.8,"s":"Oracle"},{"x":92.8,"y":2.1,"s":"Oracle"},{"x":95.9,"y":1.3,"s":"Oracle"},{"x":97.9,"y":0.5,"s":"Oracle"}
]
},
"concat": [
{"width": 346, "height": 345, "data": {"name": "a"}, "mark": {"type": "line", "strokeWidth": 1.2},
 "encoding": {
  "x": {"field": "x", "type": "quantitative", "scale": {"domain": [-4, 104], "nice": false, "zero": false}, "axis": {"values": [0,20,40,60,80,100], "labelPadding": 10, "title": "(a)\u00a0\u00a0iTrust-LSI", "titleX": 160, "titleAlign": "center", "titlePadding": 7}},
  "y": {"field": "y", "type": "quantitative", "scale": {"domain": [-4, 104], "nice": false, "zero": false}, "axis": {"values": [0,20,40,60,80,100], "title": null, "labelAngle": -90, "labelAlign": "center", "labelBaseline": "alphabetic", "labelPadding": 10}},
  "color": {"field": "s", "type": "nominal", "scale": {"domain": ["Baseline","Samurai","Oracle"], "range": ["#000000","#0000ff","#ff0000"]}, "legend": {"title": null, "orient": "top-left", "offset": 11, "padding": 0, "labelExpr": "'LSI'", "symbolType": "M-2.5,0H2.5", "symbolSize": 144, "symbolStrokeWidth": 1.2, "symbolOffset": 209.25, "labelFont": "Liberation Sans", "labelFontSize": 17.5, "labelColor": "black", "labelOffset": 21.25, "rowPadding": 0.5}},
  "strokeDash": {"field": "s", "type": "nominal", "scale": {"domain": ["Baseline","Samurai","Oracle"], "range": [[5,3],[1,2,4,2],[3,2]]}, "legend": {"title": null, "orient": "top-left", "offset": 11, "padding": 0, "labelExpr": "'LSI'", "symbolType": "M-2.5,0H2.5", "symbolSize": 144, "symbolStrokeWidth": 1.2, "symbolOffset": 209.25, "labelFont": "Liberation Sans", "labelFontSize": 17.5, "labelColor": "black", "labelOffset": 21.25, "rowPadding": 0.5}},
  "opacity": {"field": "s", "type": "nominal", "scale": {"domain": ["Baseline","Samurai","Oracle"], "range": [1, 1]}, "legend": {"title": null, "orient": "none", "legendX": 200, "legendY": 0, "padding": 8, "strokeColor": "black", "symbolType": "square", "symbolSize": 144, "symbolStrokeWidth": 0, "symbolFillColor": "transparent", "symbolStrokeColor": "transparent", "symbolOpacity": 0, "labelBaseline": "top", "labelFont": "Liberation Sans", "labelFontSize": 11.5, "labelColor": "black", "labelOffset": 64, "rowPadding": 0}}
 }},
{"width": 346, "height": 345, "data": {"name": "b"}, "mark": {"type": "line", "strokeWidth": 1.2},
 "encoding": {
  "x": {"field": "x", "type": "quantitative", "scale": {"domain": [-4, 104], "nice": false, "zero": false}, "axis": {"values": [0,20,40,60,80,100], "labelPadding": 10, "title": "(b)\u00a0\u00a0iTrust-VSM", "titleX": 160, "titleAlign": "center", "titlePadding": 7}},
  "y": {"field": "y", "type": "quantitative", "scale": {"domain": [-4, 104], "nice": false, "zero": false}, "axis": {"values": [0,20,40,60,80,100], "title": null, "labelAngle": -90, "labelAlign": "center", "labelBaseline": "alphabetic", "labelPadding": 10}},
  "color": {"field": "s", "type": "nominal", "scale": {"domain": ["Baseline","Samurai","Oracle"], "range": ["#000000","#0000ff","#ff0000"]}, "legend": {"title": null, "orient": "top-left", "offset": 11, "padding": 0, "labelExpr": "'VSM'", "symbolType": "M-2.5,0H2.5", "symbolSize": 144, "symbolStrokeWidth": 1.2, "symbolOffset": 209.25, "labelFont": "Liberation Sans", "labelFontSize": 17.5, "labelColor": "black", "labelOffset": 21.25, "rowPadding": 0.5}},
  "strokeDash": {"field": "s", "type": "nominal", "scale": {"domain": ["Baseline","Samurai","Oracle"], "range": [[5,3],[1,2,4,2],[3,2]]}, "legend": {"title": null, "orient": "top-left", "offset": 11, "padding": 0, "labelExpr": "'VSM'", "symbolType": "M-2.5,0H2.5", "symbolSize": 144, "symbolStrokeWidth": 1.2, "symbolOffset": 209.25, "labelFont": "Liberation Sans", "labelFontSize": 17.5, "labelColor": "black", "labelOffset": 21.25, "rowPadding": 0.5}},
  "opacity": {"field": "s", "type": "nominal", "scale": {"domain": ["Baseline","Samurai","Oracle"], "range": [1, 1]}, "legend": {"title": null, "orient": "none", "legendX": 200, "legendY": 0, "padding": 8, "strokeColor": "black", "symbolType": "square", "symbolSize": 144, "symbolStrokeWidth": 0, "symbolFillColor": "transparent", "symbolStrokeColor": "transparent", "symbolOpacity": 0, "labelBaseline": "top", "labelFont": "Liberation Sans", "labelFontSize": 11.5, "labelColor": "black", "labelOffset": 75.5, "rowPadding": 0}}
 }},
{"width": 346, "height": 345, "data": {"name": "c"}, "mark": {"type": "line", "strokeWidth": 1.2},
 "encoding": {
  "x": {"field": "x", "type": "quantitative", "scale": {"domain": [-4, 104], "nice": false, "zero": false}, "axis": {"values": [0,20,40,60,80,100], "labelPadding": 10, "title": "(c)\u00a0\u00a0Pooka-LSI", "titleX": 160, "titleAlign": "center", "titlePadding": 7}},
  "y": {"field": "y", "type": "quantitative", "scale": {"domain": [-4, 104], "nice": false, "zero": false}, "axis": {"values": [0,20,40,60,80,100], "title": null, "labelAngle": -90, "labelAlign": "center", "labelBaseline": "alphabetic", "labelPadding": 10}},
  "color": {"field": "s", "type": "nominal", "scale": {"domain": ["Baseline","Samurai","Oracle"], "range": ["#000000","#0000ff","#ff0000"]}, "legend": {"title": null, "orient": "top-left", "offset": 11, "padding": 0, "labelExpr": "'LSI'", "symbolType": "M-2.5,0H2.5", "symbolSize": 144, "symbolStrokeWidth": 1.2, "symbolOffset": 209.25, "labelFont": "Liberation Sans", "labelFontSize": 17.5, "labelColor": "black", "labelOffset": 21.25, "rowPadding": 0.5}},
  "strokeDash": {"field": "s", "type": "nominal", "scale": {"domain": ["Baseline","Samurai","Oracle"], "range": [[5,3],[1,2,4,2],[3,2]]}, "legend": {"title": null, "orient": "top-left", "offset": 11, "padding": 0, "labelExpr": "'LSI'", "symbolType": "M-2.5,0H2.5", "symbolSize": 144, "symbolStrokeWidth": 1.2, "symbolOffset": 209.25, "labelFont": "Liberation Sans", "labelFontSize": 17.5, "labelColor": "black", "labelOffset": 21.25, "rowPadding": 0.5}},
  "opacity": {"field": "s", "type": "nominal", "scale": {"domain": ["Baseline","Samurai","Oracle"], "range": [1, 1]}, "legend": {"title": null, "orient": "none", "legendX": 200, "legendY": 0, "padding": 8, "strokeColor": "black", "symbolType": "square", "symbolSize": 144, "symbolStrokeWidth": 0, "symbolFillColor": "transparent", "symbolStrokeColor": "transparent", "symbolOpacity": 0, "labelBaseline": "top", "labelFont": "Liberation Sans", "labelFontSize": 11.5, "labelColor": "black", "labelOffset": 64, "rowPadding": 0}}
 }},
{"width": 346, "height": 345, "data": {"name": "d"}, "mark": {"type": "line", "strokeWidth": 1.2},
 "encoding": {
  "x": {"field": "x", "type": "quantitative", "scale": {"domain": [-4, 104], "nice": false, "zero": false}, "axis": {"values": [0,20,40,60,80,100], "labelPadding": 10, "title": "(d)\u00a0\u00a0Pooka-VSM", "titleX": 160, "titleAlign": "center", "titlePadding": 7}},
  "y": {"field": "y", "type": "quantitative", "scale": {"domain": [-4, 104], "nice": false, "zero": false}, "axis": {"values": [0,20,40,60,80,100], "title": null, "labelAngle": -90, "labelAlign": "center", "labelBaseline": "alphabetic", "labelPadding": 10}},
  "color": {"field": "s", "type": "nominal", "scale": {"domain": ["Baseline","Samurai","Oracle"], "range": ["#000000","#0000ff","#ff0000"]}, "legend": {"title": null, "orient": "top-left", "offset": 11, "padding": 0, "labelExpr": "'VSM'", "symbolType": "M-2.5,0H2.5", "symbolSize": 144, "symbolStrokeWidth": 1.2, "symbolOffset": 209.25, "labelFont": "Liberation Sans", "labelFontSize": 17.5, "labelColor": "black", "labelOffset": 21.25, "rowPadding": 0.5}},
  "strokeDash": {"field": "s", "type": "nominal", "scale": {"domain": ["Baseline","Samurai","Oracle"], "range": [[5,3],[1,2,4,2],[3,2]]}, "legend": {"title": null, "orient": "top-left", "offset": 11, "padding": 0, "labelExpr": "'VSM'", "symbolType": "M-2.5,0H2.5", "symbolSize": 144, "symbolStrokeWidth": 1.2, "symbolOffset": 209.25, "labelFont": "Liberation Sans", "labelFontSize": 17.5, "labelColor": "black", "labelOffset": 21.25, "rowPadding": 0.5}},
  "opacity": {"field": "s", "type": "nominal", "scale": {"domain": ["Baseline","Samurai","Oracle"], "range": [1, 1]}, "legend": {"title": null, "orient": "none", "legendX": 200, "legendY": 0, "padding": 8, "strokeColor": "black", "symbolType": "square", "symbolSize": 144, "symbolStrokeWidth": 0, "symbolFillColor": "transparent", "symbolStrokeColor": "transparent", "symbolOpacity": 0, "labelBaseline": "top", "labelFont": "Liberation Sans", "labelFontSize": 11.5, "labelColor": "black", "labelOffset": 75.5, "rowPadding": 0}}
 }},
{"width": 346, "height": 343, "data": {"name": "e"}, "mark": {"type": "line", "strokeWidth": 1.2},
 "encoding": {
  "x": {"field": "x", "type": "quantitative", "scale": {"domain": [-4, 104], "nice": false, "zero": false}, "axis": {"values": [0,20,40,60,80,100], "labelPadding": 10, "title": "(e)\u00a0\u00a0Lynx-LSI", "titleX": 160, "titleAlign": "center", "titlePadding": 7}},
  "y": {"field": "y", "type": "quantitative", "scale": {"domain": [-4, 104], "nice": false, "zero": false}, "axis": {"values": [0,20,40,60,80,100], "title": null, "labelAngle": -90, "labelAlign": "center", "labelBaseline": "alphabetic", "labelPadding": 10}},
  "color": {"field": "s", "type": "nominal", "scale": {"domain": ["Baseline","Samurai","Oracle"], "range": ["#000000","#0000ff","#ff0000"]}, "legend": {"title": null, "orient": "top-left", "offset": 11, "padding": 0, "labelExpr": "'LSI'", "symbolType": "M-2.5,0H2.5", "symbolSize": 144, "symbolStrokeWidth": 1.2, "symbolOffset": 209.25, "labelFont": "Liberation Sans", "labelFontSize": 17.5, "labelColor": "black", "labelOffset": 21.25, "rowPadding": 0.5}},
  "strokeDash": {"field": "s", "type": "nominal", "scale": {"domain": ["Baseline","Samurai","Oracle"], "range": [[5,3],[1,2,4,2],[3,2]]}, "legend": {"title": null, "orient": "top-left", "offset": 11, "padding": 0, "labelExpr": "'LSI'", "symbolType": "M-2.5,0H2.5", "symbolSize": 144, "symbolStrokeWidth": 1.2, "symbolOffset": 209.25, "labelFont": "Liberation Sans", "labelFontSize": 17.5, "labelColor": "black", "labelOffset": 21.25, "rowPadding": 0.5}},
  "opacity": {"field": "s", "type": "nominal", "scale": {"domain": ["Baseline","Samurai","Oracle"], "range": [1, 1]}, "legend": {"title": null, "orient": "none", "legendX": 200, "legendY": 0, "padding": 8, "strokeColor": "black", "symbolType": "square", "symbolSize": 144, "symbolStrokeWidth": 0, "symbolFillColor": "transparent", "symbolStrokeColor": "transparent", "symbolOpacity": 0, "labelBaseline": "top", "labelFont": "Liberation Sans", "labelFontSize": 11.5, "labelColor": "black", "labelOffset": 64, "rowPadding": 0}}
 }},
{"width": 346, "height": 343, "data": {"name": "f"}, "mark": {"type": "line", "strokeWidth": 1.2},
 "encoding": {
  "x": {"field": "x", "type": "quantitative", "scale": {"domain": [-4, 104], "nice": false, "zero": false}, "axis": {"values": [0,20,40,60,80,100], "labelPadding": 10, "title": "(f)\u00a0\u00a0Lynx-VSM", "titleX": 160, "titleAlign": "center", "titlePadding": 7}},
  "y": {"field": "y", "type": "quantitative", "scale": {"domain": [-4, 104], "nice": false, "zero": false}, "axis": {"values": [0,20,40,60,80,100], "title": null, "labelAngle": -90, "labelAlign": "center", "labelBaseline": "alphabetic", "labelPadding": 10}},
  "color": {"field": "s", "type": "nominal", "scale": {"domain": ["Baseline","Samurai","Oracle"], "range": ["#000000","#0000ff","#ff0000"]}, "legend": {"title": null, "orient": "top-left", "offset": 11, "padding": 0, "labelExpr": "'VSM'", "symbolType": "M-2.5,0H2.5", "symbolSize": 144, "symbolStrokeWidth": 1.2, "symbolOffset": 209.25, "labelFont": "Liberation Sans", "labelFontSize": 17.5, "labelColor": "black", "labelOffset": 21.25, "rowPadding": 0.5}},
  "strokeDash": {"field": "s", "type": "nominal", "scale": {"domain": ["Baseline","Samurai","Oracle"], "range": [[5,3],[1,2,4,2],[3,2]]}, "legend": {"title": null, "orient": "top-left", "offset": 11, "padding": 0, "labelExpr": "'VSM'", "symbolType": "M-2.5,0H2.5", "symbolSize": 144, "symbolStrokeWidth": 1.2, "symbolOffset": 209.25, "labelFont": "Liberation Sans", "labelFontSize": 17.5, "labelColor": "black", "labelOffset": 21.25, "rowPadding": 0.5}},
  "opacity": {"field": "s", "type": "nominal", "scale": {"domain": ["Baseline","Samurai","Oracle"], "range": [1, 1]}, "legend": {"title": null, "orient": "none", "legendX": 200, "legendY": 0, "padding": 8, "strokeColor": "black", "symbolType": "square", "symbolSize": 144, "symbolStrokeWidth": 0, "symbolFillColor": "transparent", "symbolStrokeColor": "transparent", "symbolOpacity": 0, "labelBaseline": "top", "labelFont": "Liberation Sans", "labelFontSize": 11.5, "labelColor": "black", "labelOffset": 75.5, "rowPadding": 0}}
 }}
],
"columns": 2,
"spacing": {"row": 105, "column": 39},
"bounds": "flush",
"resolve": {
  "scale": {"color": "independent", "strokeDash": "independent", "opacity": "independent"},
  "legend": {"color": "independent", "strokeDash": "independent", "opacity": "independent"}
}
}
